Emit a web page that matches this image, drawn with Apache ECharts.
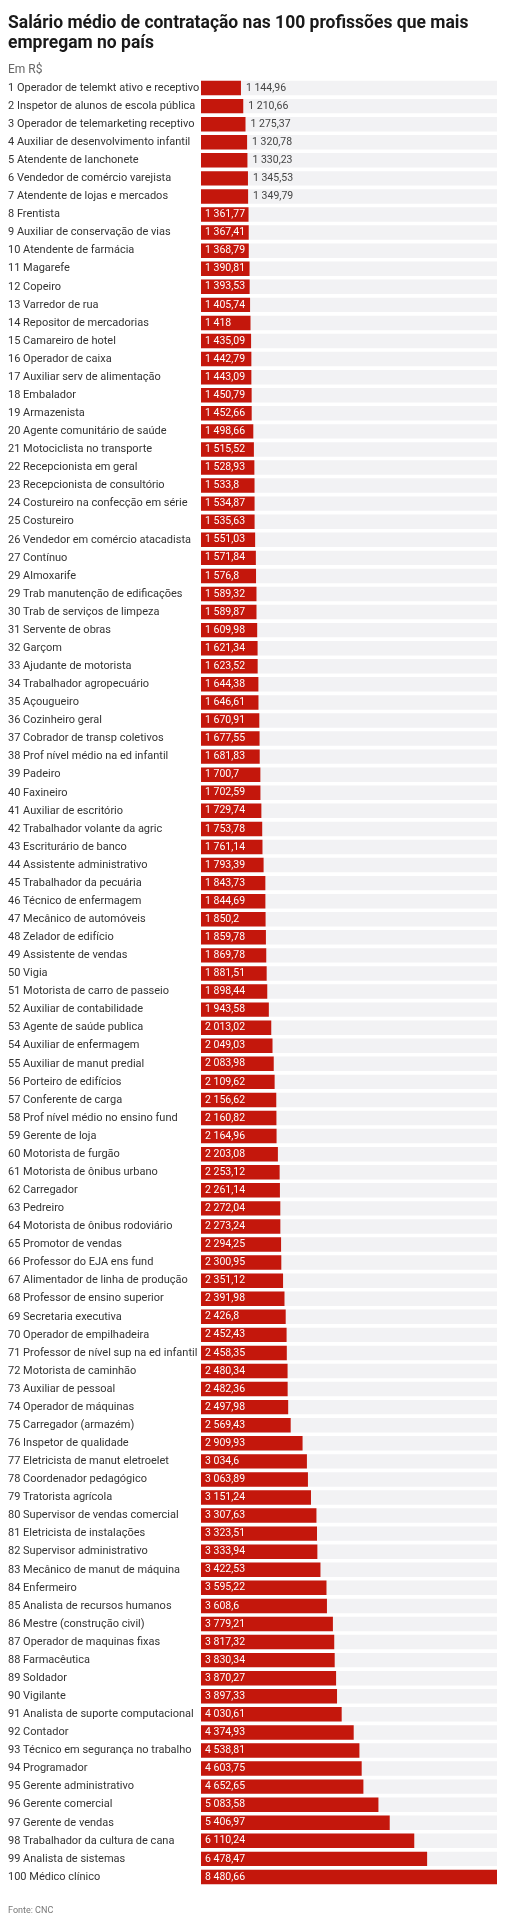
<!DOCTYPE html>
<html lang="pt-BR">
<head>
    <meta charset="UTF-8">
    <title>Salário médio de contratação</title>
    <script src="https://cdn.jsdelivr.net/npm/echarts@6/dist/echarts.min.js"></script>
    <style>
        html, body { margin: 0; padding: 0; background: #fff; }
        #main { width: 505px; height: 1920px; }
    </style>
</head>
<body>
<div id="main"></div>
<script type="text/javascript">
    // profissões (a numeração é a do original, inclusive o "29" repetido)
    var profissoes = [
        '1 Operador de telemkt ativo e receptivo', '2 Inspetor de alunos de escola pública',
        '3 Operador de telemarketing receptivo', '4 Auxiliar de desenvolvimento infantil',
        '5 Atendente de lanchonete', '6 Vendedor de comércio varejista',
        '7 Atendente de lojas e mercados', '8 Frentista',
        '9 Auxiliar de conservação de vias', '10 Atendente de farmácia',
        '11 Magarefe', '12 Copeiro', '13 Varredor de rua', '14 Repositor de mercadorias',
        '15 Camareiro de hotel', '16 Operador de caixa', '17 Auxiliar serv de alimentação',
        '18 Embalador', '19 Armazenista', '20 Agente comunitário de saúde',
        '21 Motociclista no transporte', '22 Recepcionista em geral',
        '23 Recepcionista de consultório', '24 Costureiro na confecção em série',
        '25 Costureiro', '26 Vendedor em comércio atacadista', '27 Contínuo',
        '29 Almoxarife', '29 Trab manutenção de edificações', '30 Trab de serviços de limpeza',
        '31 Servente de obras', '32 Garçom', '33 Ajudante de motorista',
        '34 Trabalhador agropecuário', '35 Açougueiro', '36 Cozinheiro geral',
        '37 Cobrador de transp coletivos', '38 Prof nível médio na ed infantil',
        '39 Padeiro', '40 Faxineiro', '41 Auxiliar de escritório',
        '42 Trabalhador volante da agric', '43 Escriturário de banco',
        '44 Assistente administrativo', '45 Trabalhador da pecuária',
        '46 Técnico de enfermagem', '47 Mecânico de automóveis', '48 Zelador de edifício',
        '49 Assistente de vendas', '50 Vigia', '51 Motorista de carro de passeio',
        '52 Auxiliar de contabilidade', '53 Agente de saúde publica',
        '54 Auxiliar de enfermagem', '55 Auxiliar de manut predial',
        '56 Porteiro de edifícios', '57 Conferente de carga',
        '58 Prof nível médio no ensino fund', '59 Gerente de loja',
        '60 Motorista de furgão', '61 Motorista de ônibus urbano', '62 Carregador',
        '63 Pedreiro', '64 Motorista de ônibus rodoviário', '65 Promotor de vendas',
        '66 Professor do EJA ens fund', '67 Alimentador de linha de produção',
        '68 Professor de ensino superior', '69 Secretaria executiva',
        '70 Operador de empilhadeira', '71 Professor de nível sup na ed infantil',
        '72 Motorista de caminhão', '73 Auxiliar de pessoal', '74 Operador de máquinas',
        '75 Carregador (armazém)', '76 Inspetor de qualidade',
        '77 Eletricista de manut eletroelet', '78 Coordenador pedagógico',
        '79 Tratorista agrícola', '80 Supervisor de vendas comercial',
        '81 Eletricista de instalações', '82 Supervisor administrativo',
        '83 Mecânico de manut de máquina', '84 Enfermeiro',
        '85 Analista de recursos humanos', '86 Mestre (construção civil)',
        '87 Operador de maquinas fixas', '88 Farmacêutica', '89 Soldador',
        '90 Vigilante', '91 Analista de suporte computacional', '92 Contador',
        '93 Técnico em segurança no trabalho', '94 Programador',
        '95 Gerente administrativo', '96 Gerente comercial', '97 Gerente de vendas',
        '98 Trabalhador da cultura de cana', '99 Analista de sistemas', '100 Médico clínico'
    ];

    // salário médio em R$
    var salarios = [
        1144.96, 1210.66, 1275.37, 1320.78, 1330.23, 1345.53, 1349.79, 1361.77, 1367.41, 1368.79,
        1390.81, 1393.53, 1405.74, 1418, 1435.09, 1442.79, 1443.09, 1450.79, 1452.66, 1498.66,
        1515.52, 1528.93, 1533.8, 1534.87, 1535.63, 1551.03, 1571.84, 1576.8, 1589.32, 1589.87,
        1609.98, 1621.34, 1623.52, 1644.38, 1646.61, 1670.91, 1677.55, 1681.83, 1700.7, 1702.59,
        1729.74, 1753.78, 1761.14, 1793.39, 1843.73, 1844.69, 1850.2, 1859.78, 1869.78, 1881.51,
        1898.44, 1943.58, 2013.02, 2049.03, 2083.98, 2109.62, 2156.62, 2160.82, 2164.96, 2203.08,
        2253.12, 2261.14, 2272.04, 2273.24, 2294.25, 2300.95, 2351.12, 2391.98, 2426.8, 2452.43,
        2458.35, 2480.34, 2482.36, 2497.98, 2569.43, 2909.93, 3034.6, 3063.89, 3151.24, 3307.63,
        3323.51, 3333.94, 3422.53, 3595.22, 3608.6, 3779.21, 3817.32, 3830.34, 3870.27, 3897.33,
        4030.61, 4374.93, 4538.81, 4603.75, 4652.65, 5083.58, 5406.97, 6110.24, 6478.47, 8480.66
    ];

    var fonte = 'Roboto, "Noto Sans", sans-serif';

    // 1 144,96 / 1 418 / 1 533,8
    function formata(v) {
        var partes = String(v).split('.');
        var inteiro = partes[0].replace(/\B(?=(\d{3})+(?!\d))/g, ' ');
        return partes.length > 1 ? inteiro + ',' + partes[1] : inteiro;
    }

    // barras curtas demais levam o rótulo por fora
    var dados = salarios.map(function (v) {
        var fora = v < 1355;
        return {
            value: v,
            label: {
                position: fora ? 'right' : 'insideLeft',
                distance: fora ? 5 : 4,
                color: fora ? '#444' : '#fff'
            }
        };
    });

    var myChart = echarts.init(document.getElementById('main'));

    var option = {
        animation: false,
        backgroundColor: '#fff',
        title: [
            {
                text: 'Salário médio de contratação nas 100 profissões que mais\nempregam no país',
                left: 3,
                top: 9,
                textStyle: {
                    fontFamily: fonte, fontSize: 17.5, fontWeight: 'bold',
                    color: '#1a1a1a', lineHeight: 20
                }
            },
            {
                text: 'Em R$',
                left: 3,
                top: 59,
                textStyle: { fontFamily: fonte, fontSize: 12, fontWeight: 'normal', color: '#666' }
            },
            {
                text: 'Fonte: CNC',
                left: 3,
                top: 1901,
                textStyle: { fontFamily: fonte, fontSize: 9, fontWeight: 'normal', color: '#777' }
            }
        ],
        grid: {
            left: 201,
            right: 8,
            top: 79,
            height: 1807
        },
        xAxis: {
            type: 'value',
            min: 0,
            max: 8480.66,
            show: false
        },
        yAxis: {
            type: 'category',
            inverse: true,
            data: profissoes,
            axisLine: { show: false },
            axisTick: { show: false },
            axisLabel: {
                align: 'left',
                margin: 193,
                fontFamily: fonte,
                fontSize: 11,
                color: '#333'
            }
        },
        series: [
            {
                type: 'bar',
                data: dados,
                barWidth: '80%',
                itemStyle: { color: '#c4170c' },
                showBackground: true,
                backgroundStyle: { color: '#f2f2f4' },
                label: {
                    show: true,
                    fontFamily: fonte,
                    fontSize: 10.5,
                    formatter: function (p) { return formata(p.value); }
                }
            }
        ]
    };

    myChart.setOption(option);
</script>
</body>
</html>
